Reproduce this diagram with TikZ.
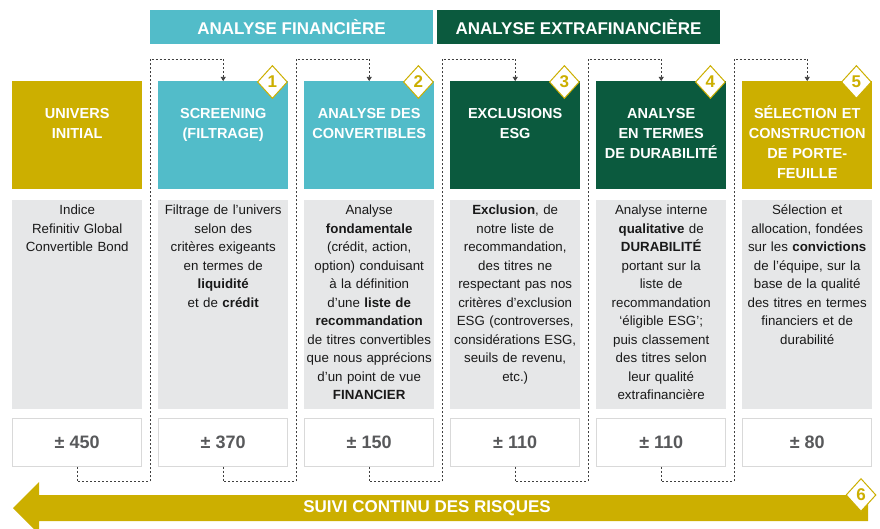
\documentclass[tikz,border=0pt]{standalone}
\usepackage{fontspec}
\setmainfont{Liberation Sans}
\usepackage{xcolor}
\usepackage{tikz}
\usetikzlibrary{arrows.meta,positioning,shapes,calc}
\definecolor{finteal}{RGB}{82,188,201}
\definecolor{extragreen}{RGB}{11,90,62}
\definecolor{gold}{RGB}{204,175,0}
\definecolor{panelgray}{RGB}{230,231,232}
\definecolor{countborder}{RGB}{217,217,217}
\definecolor{counttext}{RGB}{88,89,91}
\definecolor{linkgray}{RGB}{64,64,64}
\tikzset{
  % bandeaux du haut
  banner/.style={
    minimum width=283pt,
    minimum height=34pt,
    inner sep=0pt,
    text=white,
    font=\fontsize{17}{20}\selectfont\bfseries
  },
  % boîtes de titre des étapes
  stage/.style={
    anchor=north west,
    text width=126pt,
    inner xsep=2pt,
    inner ysep=0pt,
    text height=37pt,
    text depth=71pt,
    align=center,
    text=white,
    font=\fontsize{14.5}{20}\selectfont\bfseries
  },
  % panneaux de description
  desc/.style={
    fill=panelgray,
    text width=126pt,
    inner xsep=2pt,
    inner ysep=0pt,
    text height=15pt,
    text depth=194pt,
    align=center,
    text=black!90,
    font=\fontsize{13.3}{18.5}\selectfont
  },
  % nombre de titres
  count/.style={
    draw=countborder,
    line width=0.8pt,
    fill=white,
    minimum width=129pt,
    minimum height=48pt,
    inner sep=0pt,
    text=counttext,
    font=\fontsize{18}{20}\selectfont\bfseries
  },
  % losange numéroté
  badge/.style={
    diamond,
    draw=gold,
    line width=1pt,
    fill=white,
    minimum width=30pt,
    minimum height=33pt,
    inner sep=0pt,
    text=gold,
    font=\fontsize{17}{17}\selectfont\bfseries
  },
  % liaisons pointillées
  link/.style={
    draw=linkgray,
    line width=0.7pt,
    dash pattern=on 2pt off 2pt,
    -{Triangle[length=4pt,width=5pt]}
  },
  riskbar/.style={text=white, font=\fontsize{17}{20}\selectfont\bfseries},
}

\begin{document}
\begin{tikzpicture}[x=1pt,y=-1pt]
  \useasboundingbox (0,0) rectangle (880,529);
  \clip (0,0) rectangle (880,529);

  % Bandeaux
  \node[banner, fill=finteal] (fin) at (291.5,27) {ANALYSE FINANCIÈRE};
  \node[banner, fill=extragreen] (extra) at (578.5,27) {ANALYSE EXTRAFINANCIÈRE};

  % Étapes
  \node[stage, fill=gold] (t1) at (12,81) {UNIVERS\\INITIAL};
  \node[stage, fill=finteal] (t2) at (158,81) {SCREENING\\(FILTRAGE)};
  \node[stage, fill=finteal] (t3) at (304,81) {ANALYSE DES\\CONVERTIBLES};
  \node[stage, fill=extragreen] (t4) at (450,81) {EXCLUSIONS\\ESG};
  \node[stage, fill=extragreen] (t5) at (596,81) {ANALYSE\\EN TERMES\\DE DURABILITÉ};
  \node[stage, fill=gold] (t6) at (742,81) {SÉLECTION ET\\CONSTRUCTION\\DE PORTE-\\FEUILLE};

  % Descriptions
  \node[desc, below=10pt of t1] (d1) {Indice\\Refinitiv Global\\Convertible Bond};
  \node[desc, below=10pt of t2] (d2) {Filtrage de l'univers\\selon des\\critères exigeants\\en termes de\\\textbf{liquidité}\\et de \textbf{crédit}};
  \node[desc, below=10pt of t3] (d3) {Analyse\\\textbf{fondamentale}\\(crédit, action,\\option) conduisant\\à la définition\\d'une \textbf{liste de}\\\textbf{recommandation}\\de titres convertibles\\que nous apprécions\\d'un point de vue\\\textbf{FINANCIER}};
  \node[desc, below=10pt of t4] (d4) {\textbf{Exclusion}, de\\notre liste de\\recommandation,\\des titres ne\\respectant pas nos\\critères d'exclusion\\ESG (controverses,\\considérations ESG,\\seuils de revenu,\\etc.)};
  \node[desc, below=10pt of t5] (d5) {Analyse interne\\\textbf{qualitative} de\\\textbf{DURABILITÉ}\\portant sur la\\liste de\\recommandation\\`éligible ESG';\\puis classement\\des titres selon\\leur qualité\\extrafinancière};
  \node[desc, below=10pt of t6] (d6) {Sélection et\\allocation, fondées\\sur les \textbf{convictions}\\de l'équipe, sur la\\base de la qualité\\des titres en termes\\financiers et de\\durabilité};

  % Nombres
  \node[count, below=9pt of d1] (n1) {± 450};
  \node[count, below=9pt of d2] (n2) {± 370};
  \node[count, below=9pt of d3] (n3) {± 150};
  \node[count, below=9pt of d4] (n4) {± 110};
  \node[count, below=9pt of d5] (n5) {± 110};
  \node[count, below=9pt of d6] (n6) {± 80};

  % Liaisons
  \foreach \i/\j in {1/2,2/3,3/4,4/5,5/6}
    \draw[link] (n\i.south) -- ++(0,15) -| ($(t\j.north west)+(-8,-22)$) -| (t\j.north);

  % Numéros
  \foreach \i/\j in {1/2,2/3,3/4,4/5,5/6}
    \node[badge] (b\i) at ($(t\j.north east)+(-16,1)$) {\i};

  % Suivi des risques
  \fill[gold] (13,508) -- (39,482) -- (39,495) -- (868,495) -- (868,521)
    -- (39,521) -- (39,534) -- cycle;
  \node[riskbar] (suivi) at (427,508) {SUIVI CONTINU DES RISQUES};
  \node[badge] (b6) at (861,495) {6};
\end{tikzpicture}
\end{document}
